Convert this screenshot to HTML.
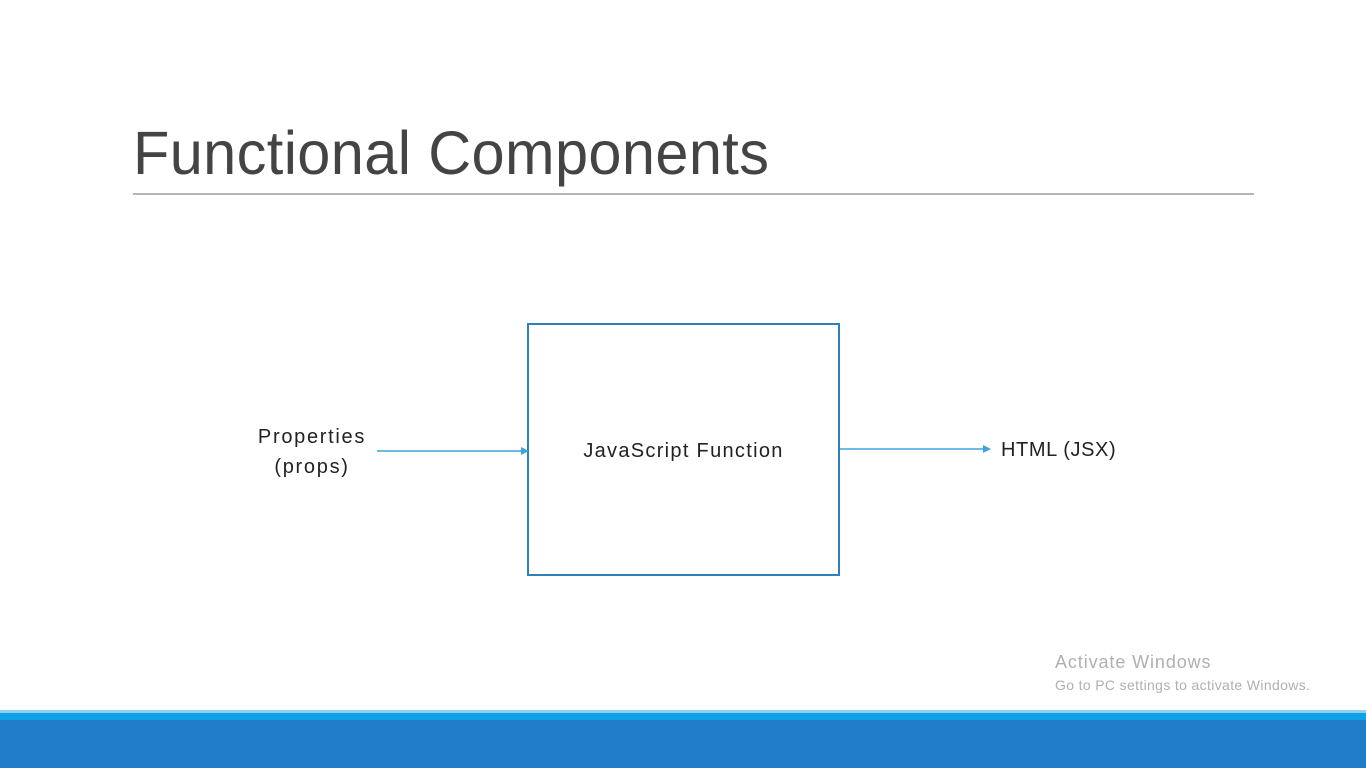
<!DOCTYPE html>
<html><head><meta charset="utf-8"><style>
html,body{margin:0;padding:0;width:1366px;height:768px;overflow:hidden;background:#fff;font-family:"Liberation Sans",sans-serif;position:relative}
.abs{position:absolute;white-space:nowrap}
</style></head><body>
<div class="abs" style="left:133px;top:115px;font-size:61px;color:#444;font-weight:300;line-height:76px;transform:scaleX(0.975);transform-origin:left top;letter-spacing:0.4px">Functional Components</div>
<div class="abs" style="left:133px;top:193px;width:1121px;height:2px;background:#b5b5b5"></div>
<div class="abs" style="left:527px;top:323px;width:309px;height:249px;border:2px solid #2f80b8"></div>
<div class="abs" style="left:529px;top:440px;width:309px;text-align:center;font-size:20px;color:#222;letter-spacing:1.3px">JavaScript Function</div>
<div class="abs" style="left:232px;top:422px;width:160px;text-align:center;font-size:20px;color:#222;line-height:30px;letter-spacing:1.7px">Properties<br>(props)</div>
<div class="abs" style="left:1001px;top:439px;font-size:20px;color:#222;letter-spacing:0.6px">HTML (JSX)</div>
<svg class="abs" style="left:0;top:0" width="1366" height="768">
<line x1="377" y1="451" x2="522" y2="451" stroke="#3fa3dc" stroke-width="1.5"/>
<polygon points="521,447 529,451 521,455" fill="#3fa3dc"/>
<line x1="840" y1="449" x2="984" y2="449" stroke="#3fa3dc" stroke-width="1.5"/>
<polygon points="983,445 991,449 983,453" fill="#3fa3dc"/>
</svg>
<div class="abs" style="left:1055px;top:652px;font-size:18px;color:#b0b0b0;letter-spacing:0.9px">Activate Windows</div>
<div class="abs" style="left:1055px;top:677px;font-size:14px;color:#b0b0b0;letter-spacing:0.35px">Go to PC settings to activate Windows.</div>
<div class="abs" style="left:0;top:710px;width:1366px;height:3px;background:#8fd0f0"></div>
<div class="abs" style="left:0;top:713px;width:1366px;height:7px;background:#12a0e6"></div>
<div class="abs" style="left:0;top:720px;width:1366px;height:48px;background:#1e7cc8"></div>
</body></html>
